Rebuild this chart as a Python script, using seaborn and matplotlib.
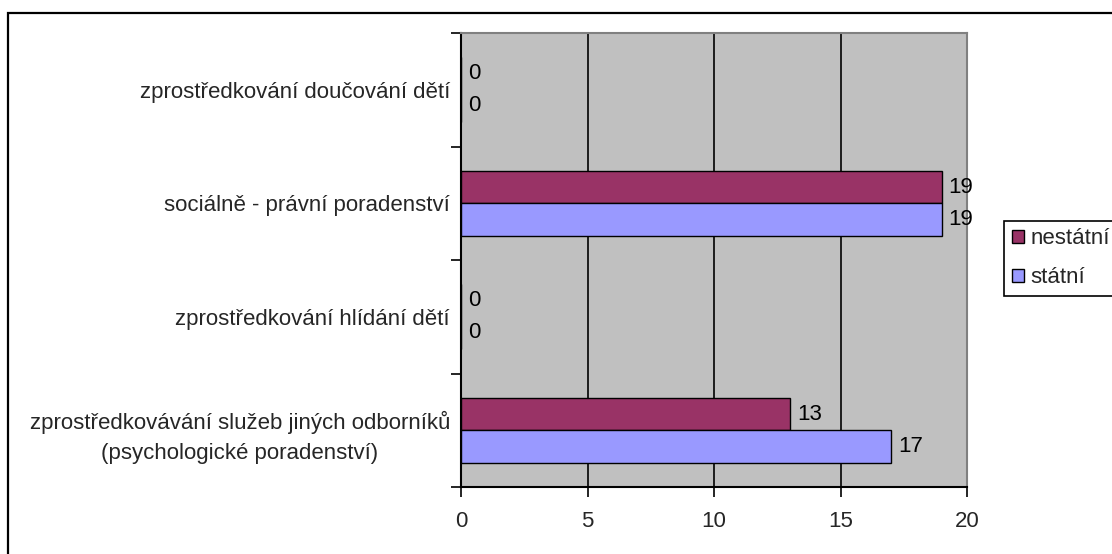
import pandas as pd
import numpy as np
import matplotlib
matplotlib.use("Agg")
import matplotlib.pyplot as plt
from matplotlib.patches import Rectangle
import seaborn as sns

# categories top to bottom
categories = [
    "zprostředkování doučování dětí",
    "sociálně - právní poradenství",
    "zprostředkování hlídání dětí",
    "zprostředkovávání služeb jiných odborníků\n(psychologické poradenství)",
]
nestatni = [0, 19, 0, 13]
statni = [0, 19, 0, 17]
series_names = ["nestátní", "státní"]
colors = ["#993366", "#9999FF"]

df = pd.DataFrame({
    "kategorie": categories * 2,
    "hodnota": nestatni + statni,
    "typ": [series_names[0]] * len(categories) + [series_names[1]] * len(categories),
})

sns.set_style("ticks")
plt.rcParams["font.family"] = ["Liberation Sans", "DejaVu Sans"]
fs = 16

fig = plt.figure(figsize=(11.12, 5.54), dpi=100)
ax = fig.add_axes([461 / 1112, 1 - 487 / 554, (967 - 461) / 1112, (487 - 33) / 554])
ax.set_facecolor("#C0C0C0")

sns.barplot(data=df, x="hodnota", y="kategorie", hue="typ", hue_order=series_names,
            palette=colors, saturation=1, orient="h", width=0.57, edgecolor="black",
            linewidth=1, ax=ax, zorder=3)

for cont in ax.containers:
    ax.bar_label(cont, padding=5, fontsize=fs, color="black")

ax.set_xlim(0, 20)
ax.set_xticks([0, 5, 10, 15, 20])
ax.set_ylim(3.5, -0.5)
ax.xaxis.grid(True, color="black", linewidth=1.2, zorder=1)
ax.set_axisbelow(True)
ax.set_xlabel("")
ax.set_ylabel("")

ax.tick_params(axis="x", direction="out", length=7, width=1.2, color="black",
               labelsize=fs, pad=10)
ax.tick_params(axis="y", which="major", length=0, labelsize=fs, pad=8)
ax.set_yticks([-0.5, 0.5, 1.5, 2.5, 3.5], minor=True)
ax.tick_params(axis="y", which="minor", direction="out", length=7, width=1.2, color="black")
for lab in ax.get_yticklabels():
    lab.set_multialignment("center")
    lab.set_linespacing(1.55)

for side in ["left", "bottom"]:
    ax.spines[side].set_color("black")
    ax.spines[side].set_linewidth(1.5)
for side in ["top", "right"]:
    ax.spines[side].set_color("#808080")
    ax.spines[side].set_linewidth(1.5)

leg = ax.legend(loc="center left", bbox_to_anchor=(1.073, 0.504), fontsize=fs,
                frameon=True, fancybox=False, edgecolor="black", framealpha=1,
                handlelength=0.55, handleheight=0.55, handletextpad=0.3,
                borderpad=0.35, labelspacing=0.8, borderaxespad=0)
leg.get_frame().set_linewidth(1.2)

# outer chart border (cropped on right and bottom)
fig.patches.append(Rectangle((7.5 / 1112, -0.1), 1.2, 1.1 - 12.5 / 554,
                             transform=fig.transFigure, fill=False,
                             edgecolor="black", linewidth=1.6))

fig.savefig("out.png", dpi=100)
